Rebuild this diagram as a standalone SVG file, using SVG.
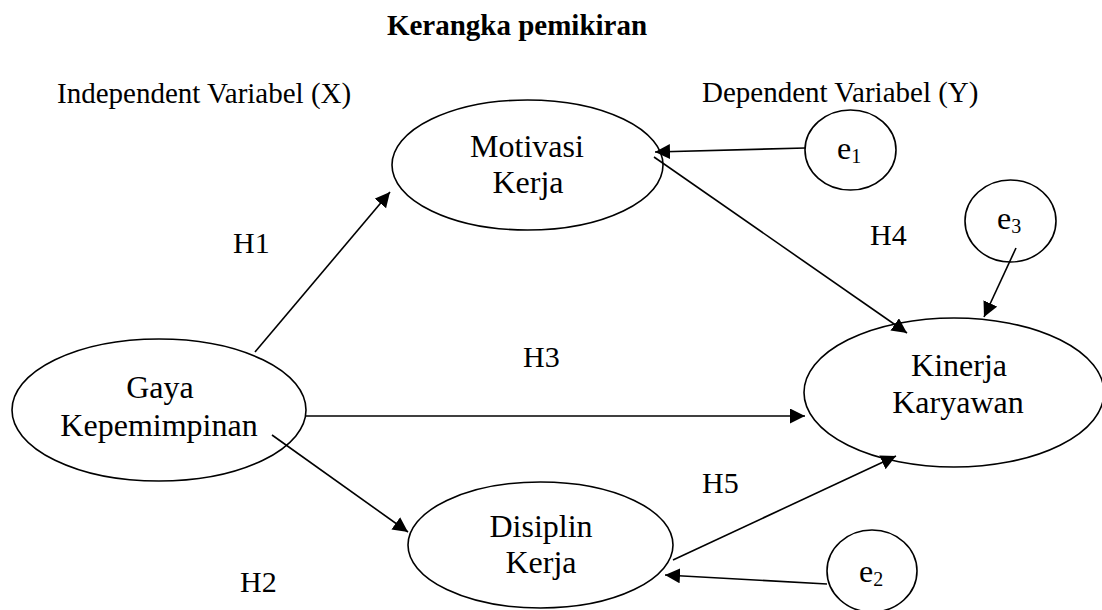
<svg xmlns="http://www.w3.org/2000/svg" width="1102" height="610" viewBox="0 0 1102 610">
<style>
text{font-family:"Liberation Serif","Times New Roman",serif;fill:#000}
.t{font-size:29px}
.n{font-size:32px;text-anchor:middle}
.h{font-size:30px}
.e{font-size:32px}
.s{font-size:20px}
.shape{fill:#fff;stroke:#000;stroke-width:1.6}
.c line{stroke:#000;stroke-width:1.6}
</style>
<defs>
<marker id="ah" markerUnits="userSpaceOnUse" markerWidth="16" markerHeight="16" refX="15" refY="7.5" orient="auto">
<path d="M0,0 L15,7.5 L0,15 z" fill="#000"/>
</marker>
</defs>
<rect width="1102" height="610" fill="#fff"/>
<text x="517" y="35" font-size="29" font-weight="bold" text-anchor="middle">Kerangka pemikiran</text>
<text class="t" x="57" y="103">Independent Variabel (X)</text>
<text class="t" x="702" y="102">Dependent Variabel (Y)</text>

<g id="gaya">
<ellipse class="shape" cx="159" cy="410" rx="147" ry="71"/>
<text class="n" x="160" y="398">Gaya</text>
<text class="n" x="159" y="436">Kepemimpinan</text>
</g>
<g id="motivasi">
<ellipse class="shape" cx="527.5" cy="165" rx="135.5" ry="65"/>
<text class="n" x="527" y="157">Motivasi</text>
<text class="n" x="528" y="193">Kerja</text>
</g>
<g id="disiplin">
<ellipse class="shape" cx="540.5" cy="545" rx="132.5" ry="63"/>
<text class="n" x="541" y="537">Disiplin</text>
<text class="n" x="541" y="573">Kerja</text>
</g>
<g id="kinerja">
<ellipse class="shape" cx="954" cy="392.5" rx="150" ry="74.5"/>
<text class="n" x="959" y="376">Kinerja</text>
<text class="n" x="958" y="413">Karyawan</text>
</g>
<g id="e1">
<ellipse class="shape" cx="850.5" cy="150" rx="45.5" ry="40"/>
<text x="837" y="159"><tspan class="e">e</tspan><tspan class="s" dy="4">1</tspan></text>
</g>
<g id="e3">
<ellipse class="shape" cx="1010.5" cy="221" rx="45.5" ry="41"/>
<text x="997" y="229"><tspan class="e">e</tspan><tspan class="s" dy="4">3</tspan></text>
</g>
<g id="e2">
<ellipse class="shape" cx="872" cy="571" rx="45" ry="41"/>
<text x="859" y="582"><tspan class="e">e</tspan><tspan class="s" dy="4">2</tspan></text>
</g>

<g id="connectors" class="c">
<line x1="255" y1="352" x2="390" y2="192" marker-end="url(#ah)"/>
<line x1="306" y1="416" x2="805" y2="416" marker-end="url(#ah)"/>
<line x1="272" y1="435" x2="408" y2="532" marker-end="url(#ah)"/>
<line x1="654" y1="157" x2="907" y2="333" marker-end="url(#ah)"/>
<line x1="673" y1="560" x2="896" y2="456" marker-end="url(#ah)"/>
<line x1="805" y1="148" x2="655" y2="152" marker-end="url(#ah)"/>
<line x1="1016" y1="248" x2="984" y2="317" marker-end="url(#ah)"/>
<line x1="827" y1="584" x2="665" y2="575" marker-end="url(#ah)"/>
</g>

<g id="labels">
<text class="h" x="233" y="253">H1</text>
<text class="h" x="240" y="592">H2</text>
<text class="h" x="523" y="367">H3</text>
<text class="h" x="870" y="245">H4</text>
<text class="h" x="702" y="493">H5</text>
</g>
</svg>
